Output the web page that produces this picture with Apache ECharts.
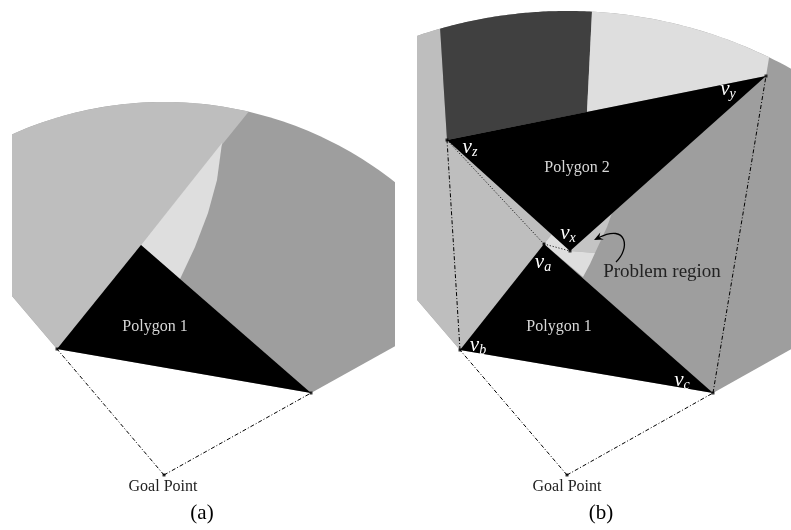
<!DOCTYPE html>
<html>
<head>
<meta charset="utf-8">
<script src="https://cdn.jsdelivr.net/npm/echarts@6/dist/echarts.min.js"></script>
<style>
  html, body { margin: 0; padding: 0; background: #fff; }
  #main { width: 791px; height: 530px; }
</style>
</head>
<body>
<div id="main"></div>
<script>
// all coordinates are relative to each panel's goal point, y pointing up

// panel (a)
var radiusA = 373;
var clipA = [-152, 231];
var polyA = [[-107, 126], [-23, 230], [147, 82]];          // b, a, c
var wedgeA = [[58, 332], [53, 295], [44, 262], [31, 228], [16, 196]];

// panel (b)
var radiusB = 464;
var clipB = [-150, 224];
var poly1B = [[-107, 125], [-23, 231], [146, 82]];         // v_b, v_a, v_c
var poly2B = [[-120, 335], [199, 399], [3, 224]];          // v_z, v_y, v_x
var darkSplitB = [25, 464];
var problemB = [[3, 224], [28, 222], [23, 211], [16, 198]];
var sliverB = [[3, 224], [45, 262], [40, 248], [34, 235], [28, 222]];

function sub(p, q) { return [p[0] - q[0], p[1] - q[1]]; }
function rayCircle(p, d, R) {
    var a = d[0] * d[0] + d[1] * d[1];
    var b = p[0] * d[0] + p[1] * d[1];
    var c = p[0] * p[0] + p[1] * p[1] - R * R;
    var t = (-b + Math.sqrt(b * b - a * c)) / a;
    return [p[0] + t * d[0], p[1] + t * d[1]];
}
function rayAtX(p, d, X) {
    var t = (X - p[0]) / d[0];
    return [X, p[1] + t * d[1]];
}
function circleAtX(R, X) { return [X, Math.sqrt(R * R - X * X)]; }
function arc(R, p0, p1) {
    var a0 = Math.atan2(p0[1], p0[0]), a1 = Math.atan2(p1[1], p1[0]);
    var out = [];
    for (var i = 0; i <= 60; i++) {
        var t = a0 + (a1 - a0) * i / 60;
        out.push([R * Math.cos(t), R * Math.sin(t)]);
    }
    return out;
}
function segAtX(p, q, X) {
    var t = (X - p[0]) / (q[0] - p[0]);
    return [X, p[1] + t * (q[1] - p[1])];
}
// intersection of ray p + t*d with segment q-r
function raySeg(p, d, q, r) {
    var e = sub(r, q);
    var den = d[0] * e[1] - d[1] * e[0];
    var w = sub(q, p);
    var t = (w[0] * e[1] - w[1] * e[0]) / den;
    return [p[0] + t * d[0], p[1] + t * d[1]];
}

// ---- panel (a) regions
var bA = polyA[0], aA = polyA[1], cA = polyA[2];
var lbA = rayAtX([0, 0], bA, clipA[0]), ltA = circleAtX(radiusA, clipA[0]);
var rtA = circleAtX(radiusA, clipA[1]), rbA = rayAtX([0, 0], cA, clipA[1]);
var splitA = rayCircle(aA, sub(aA, bA), radiusA);
var baseA = [bA, lbA].concat(arc(radiusA, ltA, rtA)).concat([rbA, cA]);
var leftA = [bA, lbA].concat(arc(radiusA, ltA, splitA)).concat([aA]);
var lightA = [aA].concat(wedgeA);

// ---- panel (b) regions
var vb = poly1B[0], va = poly1B[1], vc = poly1B[2];
var vz = poly2B[0], vy = poly2B[1], vx = poly2B[2];
var lbB = rayAtX([0, 0], vb, clipB[0]), ltB = circleAtX(radiusB, clipB[0]);
var rtB = circleAtX(radiusB, clipB[1]), rbB = rayAtX([0, 0], vc, clipB[1]);
var darkL = rayCircle(vz, sub(vz, vb), radiusB);
var darkR = rayCircle([0, 0], darkSplitB, radiusB);
var darkEdge = segAtX(vz, vy, darkR[0] * 0.8);
var topR = rayCircle(vy, sub(vy, vc), radiusB);
var baHit = raySeg(va, sub(va, vb), vz, vx);
var baseB = [vb, lbB].concat(arc(radiusB, ltB, rtB)).concat([rbB, vc]);
var leftB = [vb, lbB].concat(arc(radiusB, ltB, darkL)).concat([vz, baHit, va]);
var darkB = [darkL].concat(arc(radiusB, darkL, darkR)).concat([darkEdge, vz]);
var lightB = [darkR].concat(arc(radiusB, darkR, topR)).concat([vy, darkEdge]);
var probB = [va, baHit].concat(problemB);

function shape(ax, pts, color) {
    return {
        type: 'custom', xAxisIndex: ax, yAxisIndex: ax, silent: true, clip: true,
        data: [[0, 0]],
        renderItem: function (params, api) {
            return {
                type: 'polygon',
                shape: { points: pts.map(function (p) { return api.coord(p); }) },
                style: { fill: color }
            };
        }
    };
}
function line(ax, p, q, dash) {
    return {
        type: 'line', xAxisIndex: ax, yAxisIndex: ax, silent: true,
        data: [p, q], symbol: 'none', animation: false,
        lineStyle: { color: '#000', width: 1, type: dash }
    };
}
function dots(ax, pts) {
    return {
        type: 'scatter', xAxisIndex: ax, yAxisIndex: ax, silent: true,
        data: pts, symbol: 'rect', symbolSize: 3, itemStyle: { color: '#000' }
    };
}

var serif = '"Liberation Serif", "DejaVu Serif", serif';
var subRich = {
    v: { fontFamily: serif, fontStyle: 'italic', fontSize: 21, fill: '#fff', color: '#fff' },
    s: { fontFamily: serif, fontStyle: 'italic', fontSize: 14, fill: '#fff', color: '#fff', padding: [10, 0, 0, 0] }
};
// label anchors: [x, y, text, size, color]
var labelsA = [
    [-9, 148, 'Polygon 1', 16, '#d8d8d8'],
    [-1, -12, 'Goal Point', 16, '#222'],
    [38, -38, '(a)', 21, '#000']
];
var labelsB = [
    [-8, 148, 'Polygon 1', 16, '#d8d8d8'],
    [10, 307, 'Polygon 2', 16, '#d8d8d8'],
    [0, -12, 'Goal Point', 16, '#222'],
    [34, -38, '(b)', 21, '#000'],
    [95, 203, 'Problem region', 19, '#222']
];
var vlabels = [
    [-97, 328, 'z'], [161, 386, 'y'], [1, 242, 'x'],
    [-24, 213, 'a'], [-89, 130, 'b'], [115, 95, 'c']
];

function textSeries(ax, list) {
    return {
        type: 'custom', xAxisIndex: ax, yAxisIndex: ax, silent: true, clip: false,
        data: list.map(function (l) { return [l[0], l[1]]; }),
        renderItem: function (params, api) {
            var l = list[params.dataIndex];
            var pt = api.coord([l[0], l[1]]);
            return {
                type: 'text', x: pt[0], y: pt[1],
                style: {
                    text: l[2], fill: l[4], fontFamily: serif, fontSize: l[3],
                    align: 'center', verticalAlign: 'middle'
                }
            };
        }
    };
}
function vlabelSeries(ax, list) {
    return {
        type: 'custom', xAxisIndex: ax, yAxisIndex: ax, silent: true, clip: false,
        data: list.map(function (l) { return [l[0], l[1]]; }),
        renderItem: function (params, api) {
            var l = list[params.dataIndex];
            var pt = api.coord([l[0], l[1]]);
            return {
                type: 'text', x: pt[0], y: pt[1],
                style: {
                    text: '{v|v}{s|' + l[2] + '}', rich: subRich,
                    align: 'center', verticalAlign: 'middle'
                }
            };
        }
    };
}

// curved arrow pointing at the problem region
var arrowB = { from: [49, 213], c1: [63, 226], c2: [61, 252], to: [27, 235] };
var arrowSeries = {
    type: 'custom', xAxisIndex: 1, yAxisIndex: 1, silent: true, clip: false,
    data: [[0, 0]],
    renderItem: function (params, api) {
        var p0 = api.coord(arrowB.from), p1 = api.coord(arrowB.c1);
        var p2 = api.coord(arrowB.c2), p3 = api.coord(arrowB.to);
        var dx = p3[0] - p2[0], dy = p3[1] - p2[1];
        var len = Math.sqrt(dx * dx + dy * dy);
        dx /= len; dy /= len;
        var L = 9, W = 4;
        var head = [
            p3,
            [p3[0] - dx * L - dy * W, p3[1] - dy * L + dx * W],
            [p3[0] - dx * L * 0.65, p3[1] - dy * L * 0.65],
            [p3[0] - dx * L + dy * W, p3[1] - dy * L - dx * W]
        ];
        return {
            type: 'group',
            children: [
                {
                    type: 'bezierCurve',
                    shape: { x1: p0[0], y1: p0[1], cpx1: p1[0], cpy1: p1[1], cpx2: p2[0], cpy2: p2[1], x2: p3[0] - dx * 5, y2: p3[1] - dy * 5 },
                    style: { stroke: '#000', lineWidth: 1.3, fill: null }
                },
                { type: 'polygon', shape: { points: head }, style: { fill: '#000' } }
            ]
        };
    }
};

var dashDot = [4, 2, 1, 2];
var chart = echarts.init(document.getElementById('main'));
chart.setOption({
    animation: false,
    backgroundColor: '#fff',
    grid: [
        { left: 0, top: 0, width: 400, height: 530 },
        { left: 400, top: 0, width: 391, height: 530 }
    ],
    xAxis: [
        { type: 'value', gridIndex: 0, min: -164, max: 236, show: false },
        { type: 'value', gridIndex: 1, min: -167, max: 224, show: false }
    ],
    yAxis: [
        { type: 'value', gridIndex: 0, min: -55, max: 475, show: false },
        { type: 'value', gridIndex: 1, min: -55, max: 475, show: false }
    ],
    series: [
        shape(0, baseA, '#9e9e9e'),
        shape(0, leftA, '#bebebe'),
        shape(0, lightA, '#dedede'),
        shape(0, polyA, '#000'),
        line(0, [0, 0], bA, dashDot),
        line(0, [0, 0], cA, dashDot),
        dots(0, [[0, 0], bA, cA]),
        textSeries(0, labelsA),

        shape(1, baseB, '#9e9e9e'),
        shape(1, leftB, '#bebebe'),
        shape(1, darkB, '#404040'),
        shape(1, lightB, '#dedede'),
        shape(1, sliverB, '#c4c4c4'),
        shape(1, probB, '#dedede'),
        shape(1, poly1B, '#000'),
        shape(1, poly2B, '#000'),
        line(1, [0, 0], vb, dashDot),
        line(1, [0, 0], vc, dashDot),
        line(1, vb, vz, dashDot),
        line(1, vc, vy, dashDot),
        line(1, vz, va, [1, 2]),
        line(1, va, vx, [1, 2]),
        dots(1, [[0, 0], vb, vc, vz, vy, va, vx]),
        arrowSeries,
        textSeries(1, labelsB),
        vlabelSeries(1, vlabels)
    ]
});
</script>
</body>
</html>
